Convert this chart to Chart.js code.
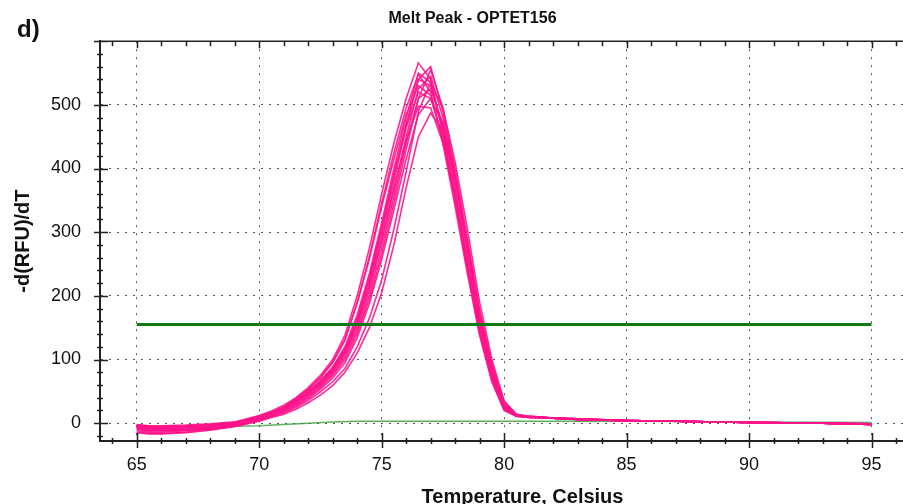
<!DOCTYPE html>
<html>
<head>
<meta charset="utf-8">
<script src="https://cdn.jsdelivr.net/npm/chart.js"></script>
<style>
  html, body { margin: 0; padding: 0; background: #fff; }
  #wrap { position: relative; width: 903px; height: 504px; overflow: hidden; }
  #panel { position: absolute; left: 17px; top: 17px; font: bold 24px "Liberation Sans", Arial, sans-serif; line-height: 24px; color: #111; }
  canvas { position: absolute; left: 0; top: 0; }
</style>
</head>
<body>
<div id="wrap">
  <canvas id="chart" width="960" height="520"></canvas>
  <div id="panel">d)</div>
</div>
<script>
// melt curve temperatures (deg C)
const temps = [65, 65.5, 66, 67, 68, 69, 70, 70.5, 71, 71.5, 72, 72.5, 73, 73.5, 74, 74.5, 75, 75.5, 76, 76.5, 77, 77.5, 78, 78.5, 79, 79.5, 80, 80.5, 81, 82, 83, 85, 87, 90, 93, 95];

// -d(RFU)/dT for each well
const wellA = [-2, -4, -4, -3, -1, 2, 12, 19, 28, 40, 56, 75, 100, 138, 200, 275, 360, 440, 510, 566, 540, 455, 350, 240, 140, 65, 20, 11, 9, 8, 7, 4, 3, 1, 0, -2];
const wellB = [-10, -12, -12, -11, -8, -3, 6, 12, 19, 29, 41, 56, 75, 100, 140, 195, 265, 345, 430, 510, 555, 495, 400, 290, 175, 90, 30, 13, 10, 8, 6, 4, 3, 1, 0, -1];
const wellC = [-4, -6, -6, -5, -3, 0, 10, 16, 24, 36, 50, 67, 88, 120, 170, 235, 315, 400, 480, 550, 535, 460, 360, 250, 150, 72, 24, 12, 10, 8, 7, 4, 3, 1, 0, -2];
const wellD = [-8, -11, -11, -10, -7, -2, 8, 14, 21, 32, 45, 61, 80, 108, 150, 210, 285, 365, 450, 525, 545, 480, 385, 275, 165, 82, 27, 12, 10, 8, 6, 4, 3, 1, 0, -2];
const wellE = [-6, -9, -9, -8, -5, -1, 9, 15, 23, 34, 48, 64, 85, 115, 162, 225, 305, 390, 470, 540, 530, 465, 370, 260, 155, 76, 25, 12, 10, 8, 6, 4, 3, 1, 0, -2];
const wellF = [-14, -16, -16, -14, -10, -5, 4, 10, 16, 25, 36, 49, 65, 86, 120, 165, 225, 305, 395, 490, 535, 495, 410, 305, 190, 100, 35, 14, 11, 8, 6, 4, 3, 1, 0, -1];
const wellG = [-3, -5, -5, -4, -2, 1, 11, 17, 26, 38, 53, 72, 96, 132, 188, 258, 340, 415, 485, 530, 515, 445, 350, 245, 145, 70, 22, 11, 9, 8, 7, 4, 3, 1, 0, -2];
const wellH = [-9, -12, -12, -11, -8, -3, 7, 13, 20, 30, 43, 58, 77, 104, 145, 202, 275, 355, 440, 510, 525, 470, 380, 272, 163, 82, 28, 13, 10, 8, 6, 4, 3, 1, 0, -2];
const wellI = [-5, -7, -7, -6, -4, 0, 10, 16, 24, 35, 49, 66, 87, 117, 165, 230, 308, 390, 465, 520, 510, 450, 360, 255, 152, 74, 24, 12, 10, 8, 7, 4, 3, 1, 0, -2];
const wellJ = [-12, -14, -14, -12, -9, -4, 5, 11, 17, 27, 39, 53, 71, 95, 134, 188, 257, 335, 415, 485, 510, 470, 385, 280, 170, 88, 30, 13, 10, 8, 6, 4, 3, 1, 0, -1];
const wellK = [-7, -10, -10, -9, -6, -2, 8, 14, 22, 33, 46, 62, 82, 110, 155, 215, 290, 370, 445, 498, 495, 440, 355, 250, 150, 73, 24, 12, 10, 8, 6, 4, 3, 1, 0, -2];
const wellL = [-15, -17, -17, -15, -11, -5, 3, 9, 14, 22, 32, 44, 59, 80, 110, 150, 205, 280, 370, 450, 487, 460, 385, 285, 178, 94, 34, 14, 11, 8, 6, 4, 3, 1, 0, -1];
const wellM = [-6, -8, -8, -7, -5, -1, 9, 15, 22, 33, 47, 63, 84, 113, 158, 220, 298, 380, 465, 540, 560, 490, 390, 278, 165, 80, 26, 12, 10, 8, 6, 4, 3, 1, 0, -2];
const wellN = [-3, -5, -6, -5, -3, 1, 11, 17, 25, 38, 53, 71, 95, 130, 190, 262, 345, 425, 495, 548, 520, 440, 340, 235, 138, 66, 21, 11, 9, 8, 7, 4, 3, 1, 0, -2];
const wells = [wellA, wellB, wellC, wellD, wellE, wellF, wellG, wellH, wellI, wellJ, wellK, wellL, wellM, wellN];

// negative control trace and threshold
const ntcTemps = [65, 67, 69, 70, 71, 72, 73, 74, 76, 80, 85, 90, 95];
const ntcVals = [-6, -6, -5, -4, -2, 0, 2, 3, 3, 3, 3, 2, 1];
const thresholdTemps = [65, 95];
const threshold = 155;

const font = "'Liberation Sans', Arial, sans-serif";

function pts(xs, ys) {
  return xs.map(function (t, i) { return { x: t, y: ys[i] }; });
}

const datasets = wells.map(function (w, i) {
  return {
    label: "Well " + (i + 1),
    data: pts(temps, w),
    borderColor: "rgba(255, 20, 140, 0.9)",
    borderWidth: 1.6,
    pointRadius: 0,
    tension: 0,
    order: 1
  };
});
datasets.push({
  label: "NTC",
  data: pts(ntcTemps, ntcVals),
  borderColor: "rgba(40, 150, 40, 0.75)",
  borderWidth: 1.5,
  pointRadius: 0,
  order: 2
});
datasets.push({
  label: "Threshold",
  data: pts(thresholdTemps, thresholdTemps.map(function () { return threshold; })),
  borderColor: "#127a12",
  borderWidth: 3,
  pointRadius: 0,
  order: 0
});

// tick marks that cross the axes, plus the top frame line
const tickMarks = {
  id: "tickMarks",
  afterDraw(chart) {
    const ctx = chart.ctx, a = chart.chartArea;
    const x = chart.scales.x, y = chart.scales.y;
    ctx.save();
    ctx.strokeStyle = "#222";
    ctx.lineWidth = 1.5;
    ctx.beginPath();
    ctx.moveTo(a.left, a.top);
    ctx.lineTo(a.right, a.top);
    x.ticks.forEach(function (t) {
      const px = Math.round(x.getPixelForValue(t.value)) + 0.5;
      const big = t.value % 5 === 0;
      ctx.moveTo(px, a.bottom - (big ? 8 : 3));
      ctx.lineTo(px, a.bottom + (big ? 7 : 3));
      ctx.moveTo(px, a.top);
      ctx.lineTo(px, a.top + (big ? 7 : 5));
    });
    y.ticks.forEach(function (t) {
      const py = Math.round(y.getPixelForValue(t.value)) + 0.5;
      const big = t.value % 100 === 0;
      ctx.moveTo(a.left - (big ? 6 : 3), py);
      ctx.lineTo(a.left + (big ? 8 : 3), py);
    });
    ctx.stroke();
    ctx.restore();
  }
};

new Chart(document.getElementById("chart"), {
  type: "line",
  data: { datasets: datasets },
  plugins: [tickMarks],
  options: {
    responsive: false,
    animation: false,
    devicePixelRatio: 1,
    layout: { padding: { top: 0, right: 15, bottom: 0, left: 0 } },
    plugins: {
      legend: { display: false },
      tooltip: { enabled: false },
      title: {
        display: true,
        text: "Melt Peak - OPTET156",
        color: "#111",
        font: { family: font, size: 16, weight: "bold" },
        padding: { top: 9, bottom: 13 }
      }
    },
    scales: {
      x: {
        type: "linear",
        min: 63.5,
        max: 98,
        afterFit: function (s) { s.height = 79; },
        ticks: {
          stepSize: 1,
          includeBounds: false,
          autoSkip: false,
          maxRotation: 0,
          padding: 13,
          color: "#111",
          font: { family: font, size: 18 },
          callback: function (v) { return (v % 5 === 0 && v >= 65 && v <= 95) ? v : ""; }
        },
        grid: {
          drawTicks: false,
          lineWidth: 1,
          color: function (c) {
            const v = c.tick ? c.tick.value : 0;
            return (v % 5 === 0 && v >= 65 && v <= 95) ? "#555" : "rgba(0,0,0,0)";
          }
        },
        border: { color: "#222", width: 2, dash: [2, 6] },
        title: {
          display: true,
          text: "Temperature, Celsius",
          color: "#111",
          font: { family: font, size: 20, weight: "bold" },
          padding: { top: 0, bottom: 11 }
        }
      },
      y: {
        min: -28,
        max: 600,
        afterFit: function (s) { s.width = 100; },
        ticks: {
          stepSize: 20,
          includeBounds: false,
          autoSkip: false,
          padding: 19,
          color: "#111",
          font: { family: font, size: 18 },
          callback: function (v) { return (v % 100 === 0 && v < 600) ? v : ""; }
        },
        grid: {
          drawTicks: false,
          lineWidth: 1,
          color: function (c) {
            const v = c.tick ? c.tick.value : 1;
            return (v % 100 === 0 && v < 600) ? "#555" : "rgba(0,0,0,0)";
          }
        },
        border: { color: "#222", width: 2, dash: [2, 6] },
        title: {
          display: true,
          text: "-d(RFU)/dT",
          color: "#111",
          font: { family: font, size: 20, weight: "bold" },
          padding: { top: 11, bottom: 0 }
        }
      }
    }
  }
});
</script>
</body>
</html>
